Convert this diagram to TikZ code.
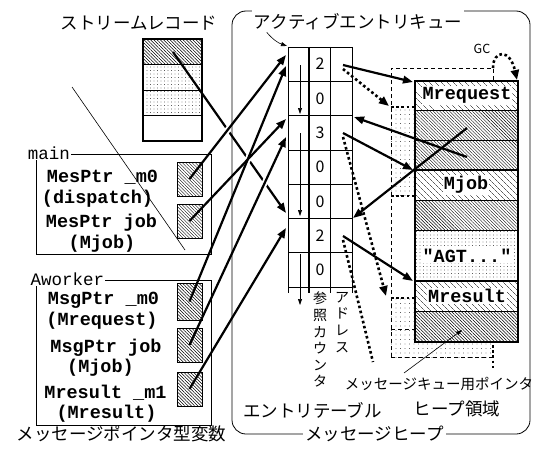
\documentclass[tikz,border=0pt]{standalone}
\usepackage{fontspec}
\setmonofont{Liberation Mono}
\newfontfamily\jp{Noto Sans CJK JP}
\usetikzlibrary{arrows.meta,patterns.meta}
\begin{document}
\begin{tikzpicture}[x=1pt,y=-1pt,
  jpL/.style={font=\jp\fontsize{17.5}{20}\selectfont, inner sep=1pt},
  jpS/.style={font=\jp\fontsize{14}{16.6}\selectfont, inner sep=0pt},
  mb/.style={font=\ttfamily\bfseries\fontsize{18.5}{20}\selectfont, inner sep=0pt},
  mr/.style={font=\ttfamily\fontsize{17.5}{20}\selectfont, inner sep=1pt, fill=white},
  hb/.style={font=\ttfamily\bfseries\fontsize{18.5}{20}\selectfont, inner sep=1pt, fill=white},
  num/.style={font=\jp\fontsize{16}{18}\selectfont, inner sep=0pt},
  box/.style={line width=0.8pt},
  arr/.style={line width=2.2pt, -{Triangle[length=10pt,width=7.5pt]}},
  halo/.style={line width=6pt, white},
  dotl/.style={line width=2.6pt, dash pattern=on 2.6pt off 2.6pt},
  dotarr/.style={dotl, -{Triangle[length=10pt,width=8pt]}},
  thinarr/.style={line width=0.6pt, -{Triangle[length=6pt,width=4pt]}},
  dsh/.style={line width=0.8pt, dash pattern=on 4pt off 3pt},
  dense/.style={pattern={Lines[angle=-45,distance=2.3pt,line width=0.45pt]}},
  sparse/.style={pattern={Lines[angle=-45,distance=4pt,line width=0.45pt]}},
  dots/.style={pattern={Dots[distance=3.5pt,radius=0.45pt]}},
  ldots/.style={pattern={Dots[distance=4.5pt,radius=0.45pt]}},
  hbox/.style={draw, line width=0.8pt, dense, minimum width=25pt, inner sep=0pt},
]
\useasboundingbox (0,0) rectangle (545,452);

% ---------- named points ----------
\coordinate (srcell) at (173,52);
\coordinate (e1a) at (286,55);
\coordinate (e1b) at (286,66);
\coordinate (e3a) at (286,119);
\coordinate (e3b) at (286,137);
\coordinate (e6a) at (286,213);
\coordinate (e6b) at (286,228);
\coordinate (ad1) at (343,65);
\coordinate (ad1d) at (343,69);
\coordinate (ad3) at (343,133);
\coordinate (ad3d) at (343,137);
\coordinate (ad6) at (343,236);
\coordinate (ad6d) at (343,240);
\coordinate (r3in) at (354,117);
\coordinate (r6in) at (353,218);
\coordinate (hq) at (413,82);
\coordinate (hj) at (413,170);
\coordinate (hr) at (413,281);
\coordinate (hA) at (467,157);
\coordinate (hB) at (467,128);
\coordinate (pq1) at (389,106);
\coordinate (pq2) at (386,296);
\coordinate (pq3) at (373,362);

% ---------- stream record ----------
\node[jpL] (srtitle) at (139,23) {ストリームレコード};
\path[dense] (143,39) rectangle (202,64);
\path[dots] (143,64) rectangle (202,115);
\draw[line width=0.9pt] (143,64)--(202,64) (143,90)--(202,90) (143,115)--(202,115);
\draw[line width=1.8pt] (143,39) rectangle (202,141);

\draw[line width=0.6pt] (72,87) -- (185,250);

% ---------- main ----------
\draw[box] (36,154) rectangle (211,254);
\node[mr] (mainlbl) at (49,153) {main};
\node[mb, anchor=base] (m1) at (102.5,182) {MesPtr \_m0};
\node[mb, anchor=base] (m2) at (97.5,203) {(dispatch)};
\node[mb, anchor=base] (m3) at (101.5,227) {MesPtr job};
\node[mb, anchor=base] (m4) at (102,248) {(Mjob)};
\node[hbox, minimum height=34pt] (hb1) at (189.5,179) {};
\node[hbox, minimum height=34pt] (hb2) at (189.5,221) {};

% ---------- Aworker ----------
\draw[box] (36,280) rectangle (211,425);
\node[mr] (awlbl) at (67.5,279) {Aworker};
\node[mb, anchor=base] (w1t) at (103.5,304) {MsgPtr \_m0};
\node[mb, anchor=base] (w2t) at (102,325) {(Mrequest)};
\node[mb, anchor=base] (w3t) at (106,352) {MsgPtr job};
\node[mb, anchor=base] (w4t) at (100.5,372) {(Mjob)};
\node[mb, anchor=base] (w5t) at (105.5,398) {Mresult \_m1};
\node[mb, anchor=base] (w6t) at (106.5,418) {(Mresult)};
\node[hbox, minimum height=37pt] (hw1) at (189.5,301.5) {};
\node[hbox, minimum height=34pt] (hw2) at (189.5,345) {};
\node[hbox, minimum height=34pt] (hw3) at (189.5,389) {};

\node[jpL] (cap) at (121.5,433.5) {メッセージポインタ型変数};

% ---------- stream pointer (drawn under the others) ----------
\draw[arr] (srcell) -- (e6a);
\begin{scope}
  \clip (213,0) rectangle (283,452);
  \foreach \a/\b in {hb1/e1a, hb2/e3a, hw1/e1b, hw2/e3b, hw3/e6b}
    \draw[halo] (\a.center) -- (\b);
\end{scope}

% ---------- message heap frame ----------
\draw[box, rounded corners=14pt] (232,11) rectangle (530,434);
\node[jpL, fill=white, inner xsep=2pt, inner ysep=4pt] (aeq) at (358,22) {アクティブエントリキュー};
\node[jpL, fill=white, inner sep=2pt] (mheap) at (374.5,434) {メッセージヒープ};

% ---------- entry table ----------
\foreach \i in {0,...,7}
  \draw[box] (288,{47+34.3*\i}) -- (352,{47+34.3*\i});
\draw[box] (288,47) -- (288,293) (330,47) -- (330,293) (352,47) -- (352,293);
\draw[line width=1.4pt] (309,47) -- (309,293);
\foreach \v [count=\i] in {2,0,3,0,0,2,0}
  \node[num] (cnt\i) at (320,{47+34.3*(\i-0.5)}) {\v};
\draw[thinarr] (300,65) -- (300,114);
\draw[thinarr] (300,133) -- (300,216);
\draw[thinarr] (300,254) -- (300,305);
\draw[thinarr] (aeq.south west)+(15,-2) coordinate (aeqs) to[bend right=15] (287,46);

\node[jpS, align=center, anchor=north] (refc) at (320,292) {参\\照\\カ\\ウ\\ン\\タ};
\node[jpS, align=center, anchor=north] (addr) at (342,292) {ア\\ド\\レ\\ス};
\node[jpL] (etab) at (312.5,410) {エントリテーブル};
\node[jpL] (harea) at (457,409) {ヒープ領域};
\node[font=\jp\fontsize{14.5}{16}\selectfont, inner sep=0pt] (ql) at (439,384) {メッセージキュー用ポインタ};

% ---------- queue region ----------
\path[ldots] (391,107) rectangle (415,196);
\path[ldots] (391,298) rectangle (415,357);
\path[ldots] (415,342) rectangle (493,357);
\draw[dsh] (391,357) -- (391,68) -- (493,68) -- (493,81);
\draw[dsh] (391,357) -- (493,357);
\draw[dsh] (391,329) -- (415,329);
\draw[dotl] (391,107) -- (415,107);
\draw[dotl] (391,196) -- (415,196);
\draw[dotl] (391,298) -- (415,298);
\draw[dotl] (493,345) -- (493,371);

% ---------- heap ----------
\path[sparse] (415,81) rectangle (518,110);
\path[dense] (415,110) rectangle (518,170);
\path[sparse] (415,170) rectangle (518,200);
\path[dense] (415,200) rectangle (518,230);
\path[dots] (415,230) rectangle (518,281);
\path[sparse] (415,281) rectangle (518,311);
\path[dense] (415,311) rectangle (518,342);
\draw[box] (415,110) -- (518,110) (415,140) -- (518,140) (415,200) -- (518,200)
  (415,230) -- (518,230) (415,311) -- (518,311);
\draw[line width=2.2pt] (415,170) -- (518,170) (415,281) -- (518,281);
\draw[line width=2.4pt] (415,81) rectangle (518,342);
\node[hb] (hMreq) at (467,95.5) {Mrequest};
\node[hb] (hMjob) at (466,185) {Mjob};
\node[hb] (hAGT) at (467,255.5) {"AGT..."};
\node[hb] (hMres) at (467,296) {Mresult};

\node[font=\jp\fontsize{12.5}{14}\selectfont, inner sep=0pt] (gc) at (482,49) {GC};
\draw[dotl, -{Triangle[length=10pt,width=8pt]}] (493,68) .. controls (493,50) and (510,48) .. (517,80);

% ---------- pointers ----------
\foreach \a/\b in {hb1/e1a, hb2/e3a, hw1/e1b, hw2/e3b, hw3/e6b}
  \draw[arr] (\a.center) -- (\b);
\draw[arr] (ad1) -- (hq);
\draw[arr] (hA) -- (r3in);
\draw[arr] (ad3) -- (hj);
\draw[arr] (hB) -- (r6in);
\draw[arr] (ad6) -- (hr);
\draw[dotarr] (ad1d) -- (pq1);
\draw[dotarr] (ad3d) -- (pq2);
\draw[dotl] (ad6d) -- (pq3);
\coordinate (qs) at (404,373);
\draw[thinarr] (qs) -- (462,330);
\end{tikzpicture}
\end{document}
